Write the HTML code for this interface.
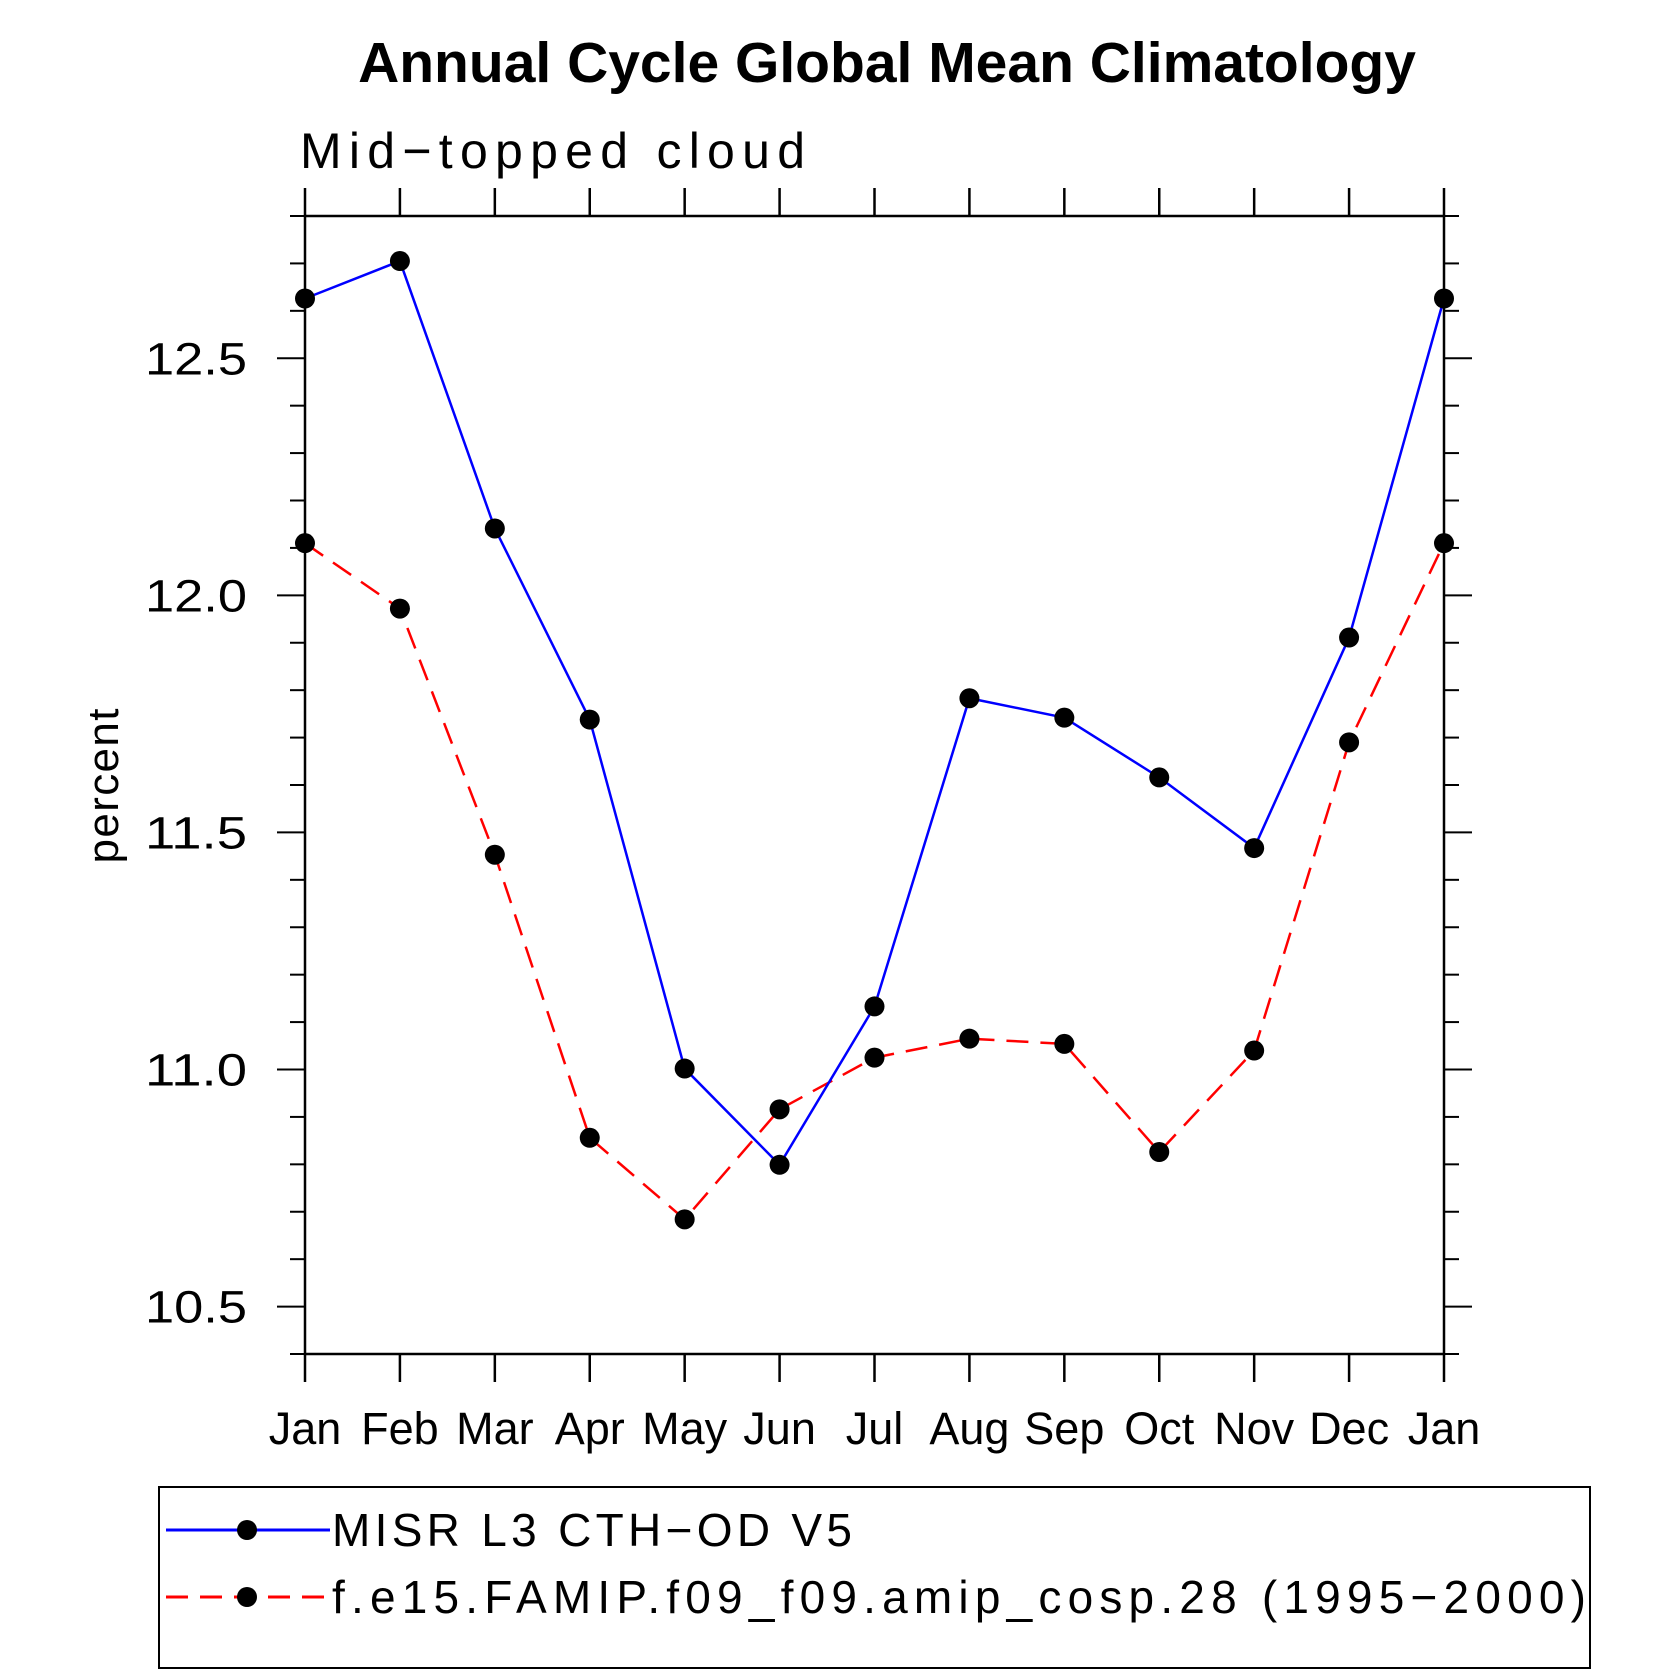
<!DOCTYPE html>
<html><head><meta charset="utf-8"><style>
html,body{margin:0;padding:0;background:#fff;}
svg text{font-family:"Liberation Sans",sans-serif;}
</style></head><body>
<svg id="chart" width="1669" height="1669" xmlns="http://www.w3.org/2000/svg">
<text x="887" y="82" text-anchor="middle" font-size="57" font-weight="bold">Annual Cycle Global Mean Climatology</text>
<text x="300" y="168" font-size="50" font-weight="300" textLength="505">Mid−topped cloud</text>
<text transform="translate(118,786) rotate(-90)" text-anchor="middle" font-size="44" textLength="155">percent</text>
<g id="axes"></g>
<g id="series"></g>
<g id="legend">
<rect x="159" y="1487" width="1431" height="181" fill="none" stroke="#000" stroke-width="2"/>
<g>
<line x1="166" y1="1530" x2="330" y2="1530" stroke="#0000ff" stroke-width="3"/>
<circle cx="247" cy="1530" r="10" fill="#000"/>
<text x="332" y="1546" font-size="46" textLength="520">MISR L3 CTH−OD V5</text>
</g>
<g>
<line x1="166" y1="1597" x2="330" y2="1597" stroke="#ff0000" stroke-width="3" stroke-dasharray="22,12"/>
<circle cx="247" cy="1597" r="10" fill="#000"/>
<text x="332" y="1613" font-size="46" textLength="1254">f.e15.FAMIP.f09_f09.amip_cosp.28 (1995−2000)</text>
</g>
</g>
</svg>
<script>
const months = ["Jan","Feb","Mar","Apr","May","Jun","Jul","Aug","Sep","Oct","Nov","Dec","Jan"];
const misr = [12.626,12.705,12.141,11.738,11.002,10.799,11.133,11.783,11.742,11.616,11.467,11.911,12.626];
const model = [12.11,11.972,11.453,10.856,10.684,10.916,11.025,11.065,11.054,10.826,11.04,11.69,12.11];
const yTicks = ["10.5","11.0","11.5","12.0","12.5"];
const yMin = 10.4, yMax = 12.8;

const NS = "http://www.w3.org/2000/svg";
const L = 305, R = 1444, T = 216, B = 1354;
const xs = i => L + (R - L) * i / (months.length - 1);
const ys = v => B - (B - T) * (v - yMin) / (yMax - yMin);
function mk(tag, attrs, parent){const e=document.createElementNS(NS,tag);for(const k in attrs)e.setAttribute(k,attrs[k]);parent.appendChild(e);return e;}
const axes = document.getElementById('axes');
const frame = mk('rect',{x:L,y:T,width:R-L,height:B-T,fill:'none',stroke:'#000','stroke-width':2.5},axes);


months.forEach((m,i)=>{
  const x = xs(i);
  mk('line',{x1:x,y1:T,x2:x,y2:T-28,stroke:'#000','stroke-width':2.5},axes);
  mk('line',{x1:x,y1:B,x2:x,y2:B+28,stroke:'#000','stroke-width':2.5},axes);
  const t = mk('text',{x:x,y:1444,'text-anchor':'middle','font-size':45},axes);
  
  
  t.textContent = m;
});
for(let k=0;k<=Math.round((yMax-yMin)*10);k++){
  const v = yMin + k*0.1, y = ys(v);
  const major = Math.abs((v*2) - Math.round(v*2)) < 1e-6;
  const len = major ? 28 : 15;
  mk('line',{x1:L,y1:y,x2:L-len,y2:y,stroke:'#000','stroke-width':2},axes);
  mk('line',{x1:R,y1:y,x2:R+len,y2:y,stroke:'#000','stroke-width':2},axes);
}
yTicks.forEach(s=>{
  const t = mk('text',{x:145,y:ys(parseFloat(s))+16,'font-size':45,textLength:102,lengthAdjust:'spacingAndGlyphs'},axes);
  
  
  t.textContent = s;
});
const series = document.getElementById('series');
function draw(vals, color, dash, name){
  const g = mk('g',{},series);
  
  
  const pl = mk('polyline',{points:vals.map((v,i)=>xs(i)+','+ys(v)).join(' '),fill:'none',stroke:color,'stroke-width':2.5},g);
  if(dash) pl.setAttribute('stroke-dasharray',dash);
  
  
  vals.forEach((v,i)=>{
    const c = mk('circle',{cx:xs(i),cy:ys(v),r:10,fill:'#000'},g);
    
    
  });
}
draw(model,'#ff0000','22,12','model-series');
draw(misr,'#0000ff',null,'misr-series');
</script>
</body></html>
